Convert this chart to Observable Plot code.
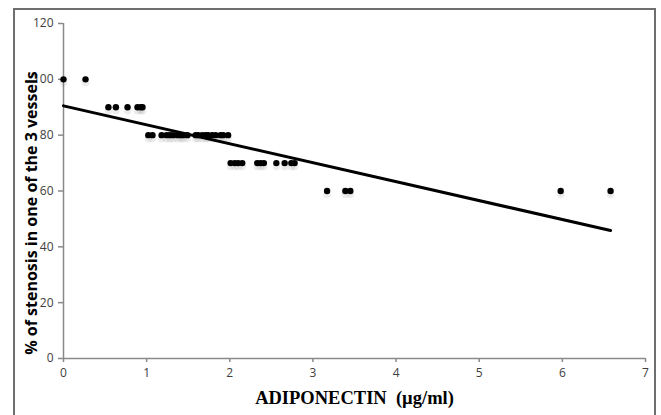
<!DOCTYPE html>
<html>
<head>
<meta charset="utf-8">
<script src="https://cdn.jsdelivr.net/npm/d3@7"></script>
<script src="https://cdn.jsdelivr.net/npm/@observablehq/plot@0.6"></script>
<style>
  html, body { margin: 0; padding: 0; background: #fff; }
  #wrap { position: relative; width: 661px; height: 415px; overflow: hidden; }
  #frame { position: absolute; left: 13px; top: 8px; width: 643px; height: 420px; border: 2px solid #6e6e6e; box-sizing: border-box; }
  #chart { position: absolute; left: 0; top: 0; }
</style>
</head>
<body>
<div id="wrap"><div id="frame"></div><div id="chart"></div></div>
<script>
// Data
const adiponectin = [
  0, 0.265,
  0.54, 0.63, 0.77, 0.89, 0.93, 0.95,
  1.02, 1.07, 1.18, 1.24, 1.28, 1.32, 1.37, 1.41, 1.44, 1.49,
  1.59, 1.62, 1.67, 1.71, 1.74, 1.79, 1.83, 1.89, 1.92, 1.98,
  2.01, 2.06, 2.10, 2.15, 2.33, 2.37, 2.41, 2.56, 2.66, 2.74, 2.78,
  3.17, 3.39, 3.45, 5.98, 6.58
];
const stenosis = [
  100, 100,
  90, 90, 90, 90, 90, 90,
  80, 80, 80, 80, 80, 80, 80, 80, 80, 80,
  80, 80, 80, 80, 80, 80, 80, 80, 80, 80,
  70, 70, 70, 70, 70, 70, 70, 70, 70, 70, 70,
  60, 60, 60, 60, 60
];
const xTicks = [0, 1, 2, 3, 4, 5, 6, 7];
const yTicks = [0, 20, 40, 60, 80, 100, 120];
const xTitle = "ADIPONECTIN  (\u00b5g/ml)";
const yTitle = "% of stenosis in one of the 3 vessels";

const data = adiponectin.map((x, i) => ({x, y: stenosis[i]}));

const axisColor = "#8a8a8a";
const tickFont = "'Open Sans', 'Liberation Sans', sans-serif";

const chart = Plot.plot({
  width: 661,
  height: 415,
  marginLeft: 63,
  marginRight: 16,
  marginTop: 23,
  marginBottom: 57,
  style: {background: "transparent", fontFamily: tickFont},
  x: {domain: [0, 7]},
  y: {domain: [0, 120]},
  marks: [
    Plot.ruleY([0], {stroke: axisColor, strokeWidth: 1.5}),
    Plot.ruleX([0], {stroke: axisColor, strokeWidth: 1.5}),
    Plot.axisX({ticks: xTicks, tickFormat: d => String(d), tickSize: 4, tickPadding: 6, stroke: axisColor, strokeWidth: 1.5, fill: "#404040", fontSize: 12, label: null}),
    Plot.axisY({ticks: yTicks, tickFormat: d => String(d), tickSize: 5, tickPadding: 5, stroke: axisColor, strokeWidth: 1.5, fill: "#404040", fontSize: 12, label: null}),
    Plot.dot(data, {x: "x", y: "y", r: 3.8, dy: 3.5, fill: "#000", fillOpacity: 0.07, stroke: "none"}),
    Plot.dot(data, {x: "x", y: "y", r: 3.2, fill: "#000", stroke: "none"}),
    Plot.linearRegressionY(data, {x: "x", y: "y", ci: 0, stroke: "#000", strokeWidth: 3}),
    Plot.text([yTitle], {frameAnchor: "left", textAnchor: "middle", lineAnchor: "middle", rotate: -90, dx: -32, dy: 22, fontSize: 16, fontWeight: "bold", fill: "#000", fontFamily: "'Open Sans', sans-serif"}),
    Plot.text([xTitle], {frameAnchor: "bottom", dy: 45, fontSize: 18.5, fontWeight: "bold", fill: "#000", fontFamily: "'Liberation Serif', 'Times New Roman', serif"})
  ]
});
document.getElementById("chart").appendChild(chart);
</script>
</body>
</html>
